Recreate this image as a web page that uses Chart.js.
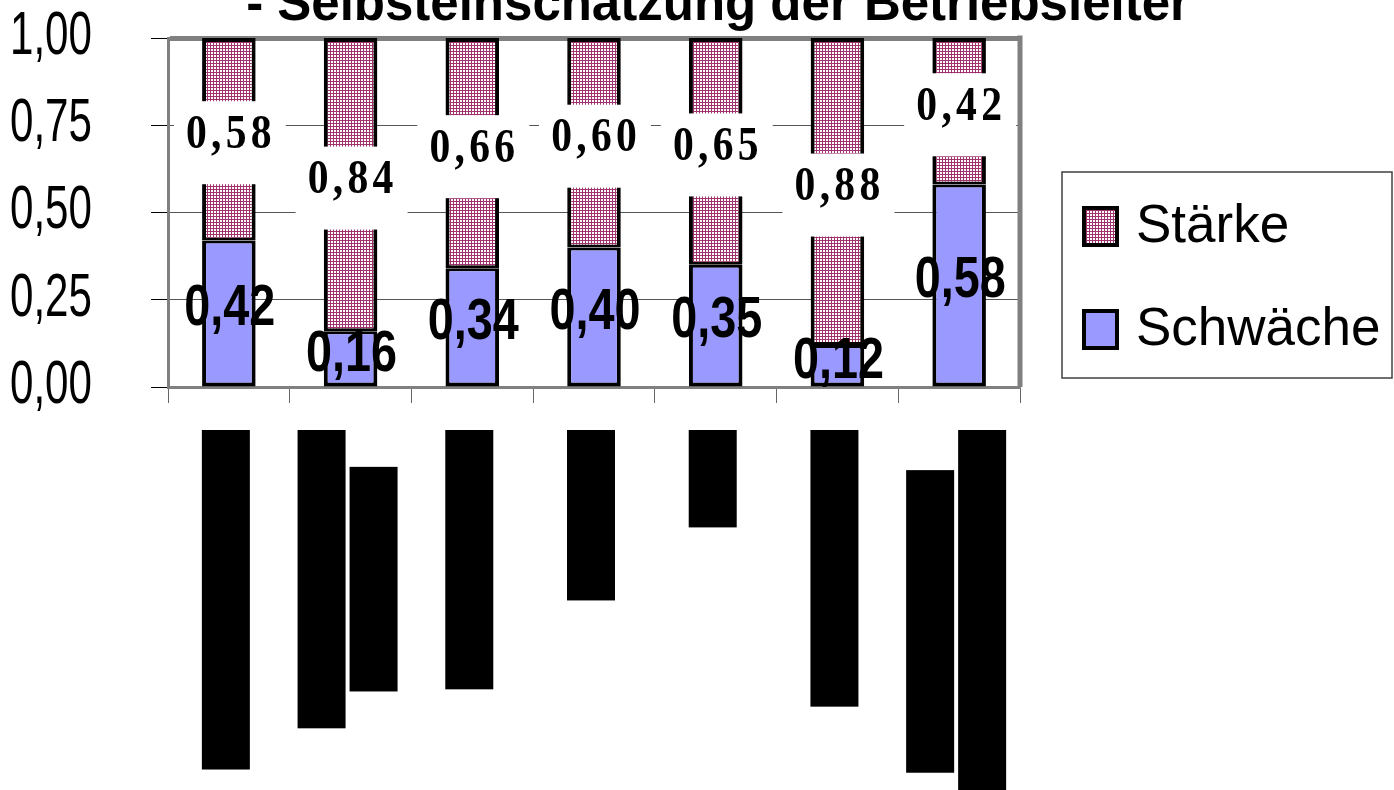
<!DOCTYPE html>
<html lang="de">
<head>
<meta charset="utf-8">
<title>Selbsteinschätzung der Betriebsleiter</title>
<script src="https://cdn.jsdelivr.net/npm/chart.js@4.4.1/dist/chart.umd.min.js"></script>
<style>
  html, body { margin: 0; padding: 0; background: #fff; }
  #wrap { width: 1394px; height: 790px; }
</style>
</head>
<body>
<div id="wrap"><canvas id="grafik" width="1394" height="790"></canvas></div>
<script>
// --- Daten ---
const titel = '- Selbsteinschätzung der Betriebsleiter';
const bereiche = [
  'Produktionstechnik',
  ['Vermarktung der', 'Erzeugnisse'],
  'Arbeitsabläufe',
  'Finanzen',
  'Tiere',
  'Personalwesen',
  ['Zusammenarbeit', 'mit Berufskolleginnen']
];
const schwaeche = [0.42, 0.16, 0.34, 0.40, 0.35, 0.12, 0.58];
const staerke = [0.58, 0.84, 0.66, 0.60, 0.65, 0.88, 0.42];
const yTicks = [0, 0.25, 0.5, 0.75, 1];

const serif = '"Liberation Serif", "Times New Roman", serif';
const sans = '"Liberation Sans", Arial, sans-serif';

function komma(v) {
  return v.toFixed(2).replace('.', ',');
}

// schmal gezogene Schrift (Arial Narrow ist nicht da)
function schmalText(ctx, text, x, y, font, faktor, align) {
  ctx.save();
  ctx.translate(x, y);
  ctx.scale(faktor, 1);
  ctx.font = font;
  ctx.fillStyle = '#000';
  ctx.textAlign = align || 'center';
  ctx.textBaseline = 'middle';
  ctx.fillText(text, 0, 0);
  ctx.restore();
}

// Punktraster fuer "Stärke"
function musterStaerke(ctx) {
  const c = document.createElement('canvas');
  c.width = 3; c.height = 3;
  const g = c.getContext('2d');
  g.fillStyle = '#ffffff';
  g.fillRect(0, 0, 3, 3);
  g.fillStyle = '#a0336e';
  g.fillRect(0, 0, 3, 1);
  g.fillRect(0, 0, 1, 3);
  return ctx.createPattern(c, 'repeat');
}

const canvas = document.getElementById('grafik');
const ctxGrafik = canvas.getContext('2d');
const rosa = musterStaerke(ctxGrafik);
const blau = '#9999ff';

// --- Plugins ---
const rahmen = {
  id: 'rahmen',
  beforeDatasetsDraw(chart) {
    const { ctx, chartArea } = chart;
    ctx.save();
    ctx.strokeStyle = '#808080';
    ctx.lineWidth = 5;
    ctx.beginPath();
    ctx.moveTo(chartArea.right, chartArea.top - 2.5);
    ctx.lineTo(chartArea.right, chartArea.bottom);
    ctx.stroke();
    ctx.restore();
  }
};

const yBeschriftung = {
  id: 'yBeschriftung',
  afterDraw(chart) {
    const ys = chart.scales.y;
    yTicks.forEach(v => {
      schmalText(chart.ctx, komma(v), 10, ys.getPixelForValue(v) - 1, '61px ' + sans, 0.69, 'left');
    });
  }
};

const werte = {
  id: 'werte',
  afterDatasetsDraw(chart) {
    const ctx = chart.ctx;
    // Schwäche: fette schmale Schrift
    chart.getDatasetMeta(0).data.forEach((bar, i) => {
      const y = (bar.y + bar.base) / 2 - 4;
      schmalText(ctx, komma(schwaeche[i]), bar.x + 1, y, 'bold 57px ' + sans, 0.82);
    });
    // Stärke: weisser Kasten, Serifenschrift
    chart.getDatasetMeta(1).data.forEach((bar, i) => {
      const y = (bar.y + bar.base) / 2;
      ctx.save();
      ctx.fillStyle = '#ffffff';
      ctx.fillRect(bar.x - 55, y + 3 - 41, 112, 83);
      ctx.translate(bar.x, y - 4);
      ctx.scale(0.85, 1);
      ctx.font = 'bold 49px ' + serif;
      ctx.letterSpacing = '5px';
      ctx.fillStyle = '#000';
      ctx.textAlign = 'center';
      ctx.textBaseline = 'middle';
      ctx.fillText(komma(staerke[i]), 2.5, 0);
      ctx.restore();
    });
  }
};

const beschriftungX = {
  id: 'beschriftungX',
  afterDraw(chart) {
    const ctx = chart.ctx;
    const xs = chart.scales.x;
    const start = xs.top + 43;
    const dicke = 48, abstand = 52;
    ctx.save();
    ctx.font = '39px ' + sans;
    bereiche.forEach((b, i) => {
      const zeilen = Array.isArray(b) ? b : [b];
      const laengen = zeilen.map(z => ctx.measureText(z).width + 10);
      const maxL = Math.max(...laengen);
      const cy = start + maxL / 2;
      const cx = xs.getPixelForValue(i) - 3;
      zeilen.forEach((z, j) => {
        const x = cx + (j - (zeilen.length - 1) / 2) * abstand;
        ctx.save();
        ctx.translate(x, cy);
        ctx.rotate(-Math.PI / 2);
        ctx.fillStyle = '#000';
        ctx.fillRect(-laengen[j] / 2, -dicke / 2, laengen[j], dicke);
        ctx.textAlign = 'center';
        ctx.textBaseline = 'middle';
        ctx.fillText(z, 0, 0);
        ctx.restore();
      });
    });
    ctx.restore();
  }
};

const kopf = {
  id: 'kopf',
  afterDraw(chart) {
    const ctx = chart.ctx;
    ctx.save();
    ctx.font = 'bold 51px ' + sans;
    ctx.fillStyle = '#000';
    ctx.textAlign = 'center';
    ctx.textBaseline = 'alphabetic';
    ctx.fillText(titel, chart.width / 2 + 21, 20);
    ctx.restore();
  }
};

const legende = {
  id: 'legende',
  afterDraw(chart) {
    const ctx = chart.ctx;
    const x0 = chart.chartArea.right + 42;
    const y0 = 172;
    ctx.save();
    ctx.strokeStyle = '#404040';
    ctx.lineWidth = 1.5;
    ctx.strokeRect(x0, y0, 330, 206);
    const eintraege = chart.data.datasets.slice().reverse();
    eintraege.forEach((ds, k) => {
      const y = y0 + 36 + k * 103;
      ctx.fillStyle = ds.backgroundColor;
      ctx.fillRect(x0 + 22, y, 33, 37);
      ctx.strokeStyle = '#000';
      ctx.lineWidth = 4;
      ctx.strokeRect(x0 + 22, y, 33, 37);
      ctx.fillStyle = '#000';
      ctx.font = '53px ' + sans;
      ctx.textAlign = 'left';
      ctx.textBaseline = 'alphabetic';
      ctx.fillText(ds.label, x0 + 74, y + 34);
    });
    ctx.restore();
  }
};

// --- Diagramm ---
new Chart(ctxGrafik, {
  type: 'bar',
  data: {
    labels: bereiche,
    datasets: [
      {
        label: 'Schwäche',
        data: schwaeche,
        backgroundColor: blau,
        borderColor: '#000',
        borderWidth: { top: 3, left: 4, right: 4, bottom: 4 },
        borderSkipped: false,
        barPercentage: 0.44,
        categoryPercentage: 1
      },
      {
        label: 'Stärke',
        data: staerke,
        backgroundColor: rosa,
        borderColor: '#000',
        borderWidth: { top: 4, left: 4, right: 4, bottom: 3 },
        borderSkipped: false,
        barPercentage: 0.44,
        categoryPercentage: 1
      }
    ]
  },
  options: {
    responsive: false,
    animation: false,
    layout: { padding: { top: 38, right: 374, bottom: 0, left: 0 } },
    plugins: {
      legend: { display: false },
      tooltip: { enabled: false },
      title: { display: false }
    },
    scales: {
      x: {
        stacked: true,
        grid: {
          offset: true,
          drawOnChartArea: false,
          tickLength: 16,
          color: '#666',
          lineWidth: 1
        },
        border: { color: '#808080', width: 3 },
        ticks: { display: false },
        afterFit: s => { s.height = 403; }
      },
      y: {
        stacked: true,
        min: 0,
        max: 1,
        afterBuildTicks: s => { s.ticks = yTicks.map(v => ({ value: v })); },
        ticks: { display: false },
        grid: {
          color: c => (c.tick && c.tick.value === 1 ? '#808080' : '#555'),
          lineWidth: c => (c.tick && c.tick.value === 1 ? 5 : 1),
          tickColor: '#000',
          tickWidth: 1,
          tickLength: 17
        },
        border: { color: '#808080', width: 3 },
        afterFit: s => { s.width = 168; }
      }
    }
  },
  plugins: [rahmen, werte, yBeschriftung, beschriftungX, kopf, legende]
});
</script>
</body>
</html>
